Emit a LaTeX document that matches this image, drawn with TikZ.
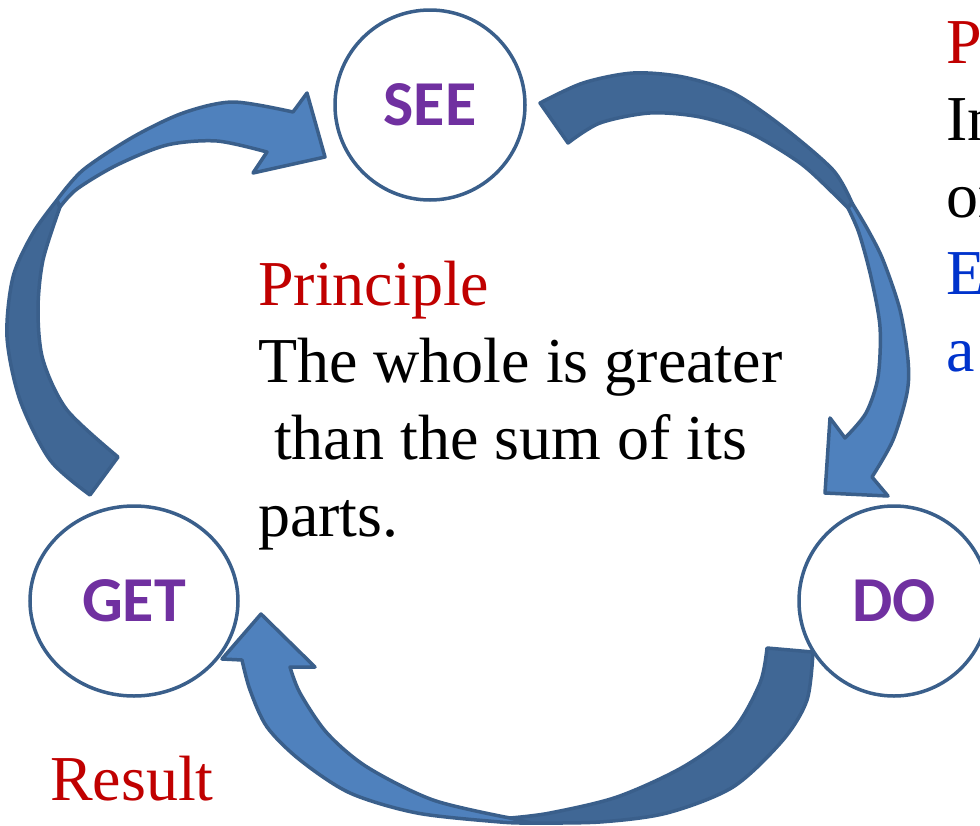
\documentclass[tikz,border=0pt]{standalone}
\usepackage{fontspec}
\setmainfont{Liberation Serif}
\newfontfamily\stagefont{Carlito}
\usetikzlibrary{shapes.geometric}

\definecolor{outline}{HTML}{3A5F8B}
\definecolor{front}{HTML}{4F81BD}
\definecolor{back}{HTML}{406795}
\definecolor{stagetext}{HTML}{7030A0}
\definecolor{headred}{HTML}{C00000}
\definecolor{noteblue}{HTML}{0033CC}

\begin{document}
\begin{tikzpicture}[x=1pt,y=-1pt,
  stage/.style={draw=outline,line width=3.5pt,circle,minimum size=190pt,
    font=\stagefont\bfseries\fontsize{64}{77}\selectfont,text=stagetext},
  backpart/.style={fill=back,draw=outline,line width=3.5pt,line join=round},
  frontpart/.style={fill=front,draw=outline,line width=3.5pt,line join=round},
  bigtext/.style={font=\fontsize{64}{77}\selectfont,align=left,inner sep=0pt,anchor=base west}]

\useasboundingbox (0,0) rectangle (980,825);

% define the arrows between the stages
  % get to see
  \filldraw[backpart] plot[smooth] coordinates {(90,495) (50,460) (20,400) (7,337) (13,277) (33,233) (57,200)}
    -- plot[smooth] coordinates {(60,207) (43,260) (38,310) (43,360) (67,410) (118,457)} -- cycle;
  \filldraw[frontpart] plot[smooth] coordinates {(57,200) (83,170) (133,137) (183,113) (233,102) (293,112)}
    -- (307,93) -- (325,157) -- (253,173) -- (267,152)
    -- plot[smooth] coordinates {(267,152) (217,141) (167,145) (117,165) (77,189) (60,207)} -- cycle;
  % see to do
  \filldraw[backpart] plot[smooth] coordinates {(540,103) (583,83) (633,73) (683,77) (733,93) (783,127) (833,170) (852,203)}
    -- plot[smooth] coordinates {(848,208) (833,193) (800,163) (750,133) (700,117) (650,113) (600,123) (568,143)} -- cycle;
  \filldraw[frontpart] plot[smooth] coordinates {(852,203) (868,230) (883,260) (900,310) (908,360) (907,393) (893,440) (872,477)}
    -- (888,496) -- (825,493) -- (830,418) -- (845,438)
    -- plot[smooth] coordinates {(845,438) (866,413) (878,377) (880,327) (871,277) (859,233) (848,208)} -- cycle;
  % do to get
  \filldraw[backpart] plot[smooth] coordinates {(813,652) (807,700) (783,740) (733,787) (667,813) (600,822) (530,823)}
    -- plot[smooth] coordinates {(510,818) (550,813) (617,797) (683,767) (733,730) (760,683) (767,648)} -- cycle;
  \filldraw[frontpart] plot[smooth] coordinates {(530,823) (500,822) (417,813) (350,793) (300,760) (267,727) (250,690) (242,660)}
    -- (222,659) -- (261,614) -- (315,667) -- (290,667)
    -- plot[smooth] coordinates {(290,667) (300,693) (327,733) (367,767) (433,800) (510,818)} -- cycle;

% define the stages
  \node[stage] (see) at (430,105) {SEE};
  \node[stage] (do) at (894,601) {DO};
  \node[stage,ellipse,minimum width=208pt,minimum height=190pt] (get) at (134,601) {GET};

% define the texts
  \node[bigtext] (principle) at (258,536) {\textcolor{headred}{Principle}\\The whole is greater\\\hspace*{0.25em}than the sum of its\\parts.};
  \node[bigtext] (side) at (946,371) {\textcolor{headred}{P}\\In\\or\\\textcolor{noteblue}{E}\\\textcolor{noteblue}{a}};
  \node[bigtext,text=headred] (result) at (50,800) {Result};

\end{tikzpicture}
\end{document}
